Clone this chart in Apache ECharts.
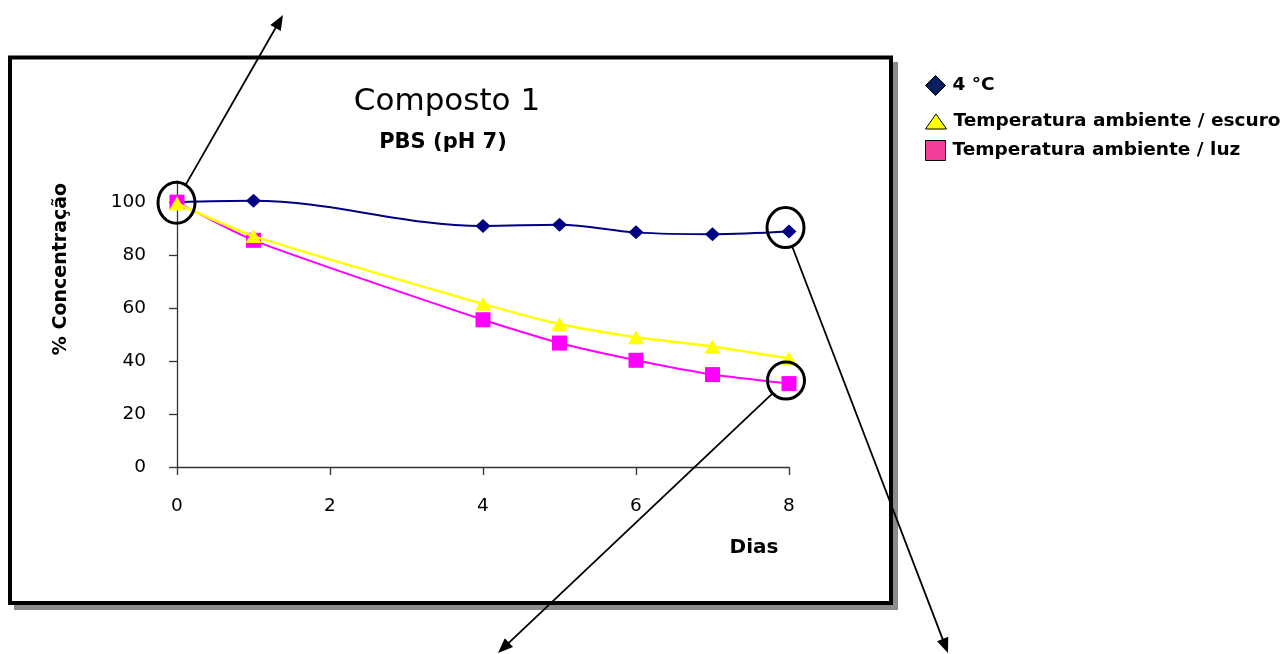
<!DOCTYPE html>
<html>
<head>
<meta charset="utf-8">
<title>Composto 1 - PBS (pH 7)</title>
<script src="https://cdn.jsdelivr.net/npm/echarts@6/dist/echarts.min.js"></script>
<style>
  html, body { margin: 0; padding: 0; background: #fff; }
  #chart { width: 1287px; height: 654px; }
</style>
</head>
<body>
<div id="chart"></div>
<script>
// Dias de armazenamento
const days = [0, 1, 4, 5, 6, 7, 8];
// % Concentração remanescente por condição
const frio4C = [100, 100.5, 91.0, 91.5, 88.6, 87.9, 88.9];
const ambienteEscuro = [99.5, 87.2, 61.6, 54.0, 49.0, 45.5, 41.0];
const ambienteLuz = [100, 85.6, 55.6, 46.8, 40.3, 34.9, 31.5];
// Rótulos dos eixos
const yTicks = [0, 20, 40, 60, 80, 100];
const xTicks = [0, 2, 4, 6, 8];
const seriesNames = ['4 °C', 'Temperatura ambiente / escuro', 'Temperatura ambiente / luz'];

const FONT = '"DejaVu Sans", "Liberation Sans", sans-serif';

const chart = echarts.init(document.getElementById('chart'), null, { renderer: 'canvas' });

const pairs = (ys) => days.map((d, i) => [d, ys[i]]);

const axisText = { color: '#000', fontFamily: FONT, fontSize: 18.5 };
const axisLine = { show: true, lineStyle: { color: '#333', width: 1.3 } };

function legendFor(name, icon, color, w, h, top) {
  return {
    data: [{ name, icon, itemStyle: { color, borderColor: '#000', borderWidth: 1 } }],
    left: 925, top, padding: 0,
    itemWidth: w, itemHeight: h, itemGap: 0,
    selectedMode: false,
    textStyle: { color: '#000', fontFamily: FONT, fontSize: 18.5, fontWeight: 'bold', padding: [0, 0, 0, 2] }
  };
}

chart.setOption({
  backgroundColor: '#fff',
  animation: false,
  grid: { left: 177, top: 181, width: 612, height: 286, containLabel: false },
  legend: [
    legendFor(seriesNames[0], 'diamond', '#0b1f5e', 20, 20, 75),
    legendFor(seriesNames[1], 'triangle', '#ffff00', 21, 15, 112),
    legendFor(seriesNames[2], 'rect', '#f23c97', 20, 20, 140)
  ],
  xAxis: {
    type: 'value', min: 0, max: 8, interval: 2,
    axisLine, splitLine: { show: false },
    axisTick: { show: true, inside: false, length: 8, lineStyle: { color: '#333', width: 1.3 }, customValues: xTicks },
    axisLabel: { ...axisText, margin: 30, customValues: xTicks }
  },
  yAxis: {
    type: 'value', min: 0, max: 108,
    axisLine, splitLine: { show: false },
    axisTick: { show: true, inside: false, length: 8, lineStyle: { color: '#333', width: 1.3 }, customValues: yTicks },
    axisLabel: { ...axisText, margin: 31, customValues: yTicks }
  },
  series: [
    {
      name: seriesNames[0], type: 'line', data: pairs(frio4C), smooth: 0.35, z: 2,
      symbol: 'diamond', symbolSize: [15, 14],
      lineStyle: { color: '#000080', width: 2 },
      itemStyle: { color: '#000080' }
    },
    {
      name: seriesNames[1], type: 'line', data: pairs(ambienteEscuro), smooth: 0.2, z: 4,
      symbol: 'triangle', symbolSize: [16, 14],
      lineStyle: { color: '#ffff00', width: 2.5 },
      itemStyle: { color: '#ffff00' }
    },
    {
      name: seriesNames[2], type: 'line', data: pairs(ambienteLuz), smooth: 0.2, z: 3,
      symbol: 'rect', symbolSize: 15,
      lineStyle: { color: '#ff00ff', width: 2 },
      itemStyle: { color: '#ff00ff' }
    }
  ]
});

// Destaques: elipses em torno de pontos escolhidos e setas que saem delas
const highlights = [
  { series: 2, idx: 0, dx: -0.5, dy: 0.5, rx: 18.5, ry: 20.5, tip: [283, 15] },
  { series: 0, idx: 6, dx: -3.5, dy: -4, rx: 18.5, ry: 20, tip: [948, 653] },
  { series: 2, idx: 6, dx: -3, dy: -3, rx: 18.5, ry: 18.5, tip: [498, 653] }
];
const seriesData = [frio4C, ambienteEscuro, ambienteLuz];

function arrowElements(sx, sy, tx, ty) {
  const a = Math.atan2(ty - sy, tx - sx);
  const len = 15, half = 6;
  const bx = tx - len * Math.cos(a), by = ty - len * Math.sin(a);
  return [
    { type: 'line', z: 20, shape: { x1: sx, y1: sy, x2: bx + 2 * Math.cos(a), y2: by + 2 * Math.sin(a) },
      style: { stroke: '#000', lineWidth: 1.8 } },
    { type: 'polygon', z: 20,
      shape: { points: [[tx, ty], [bx + half * Math.sin(a), by - half * Math.cos(a)], [bx - half * Math.sin(a), by + half * Math.cos(a)]] },
      style: { fill: '#000' } }
  ];
}

const annotation = [];
highlights.forEach((h) => {
  const p = chart.convertToPixel({ seriesIndex: h.series }, [days[h.idx], seriesData[h.series][h.idx]]);
  const cx = p[0] + h.dx, cy = p[1] + h.dy;
  annotation.push({ type: 'ellipse', z: 20, shape: { cx, cy, rx: h.rx, ry: h.ry },
    style: { fill: null, stroke: '#000', lineWidth: 3 } });
  const ang = Math.atan2(h.tip[1] - cy, h.tip[0] - cx);
  const sx = cx + h.rx * Math.cos(ang), sy = cy + h.ry * Math.sin(ang);
  annotation.push(...arrowElements(sx, sy, h.tip[0], h.tip[1]));
});

// Moldura do gráfico com sombra cinza
const frame = [
  { type: 'rect', z: -20, shape: { x: 14, y: 62, width: 884, height: 548 }, style: { fill: '#8c8c8c' } },
  { type: 'rect', z: -19, shape: { x: 10, y: 57.5, width: 881, height: 545.5 },
    style: { fill: '#fff', stroke: '#000', lineWidth: 4 } }
];

const texts = [
  { type: 'text', z: 5, x: 447, y: 102, style: { text: 'Composto 1', align: 'center', verticalAlign: 'middle',
    font: 'normal 31px ' + FONT, fill: '#000' } },
  { type: 'text', z: 5, x: 443, y: 143, style: { text: 'PBS (pH 7)', align: 'center', verticalAlign: 'middle',
    font: 'bold 21px ' + FONT, fill: '#000' } },
  { type: 'text', z: 5, x: 754, y: 548, style: { text: 'Dias', align: 'center', verticalAlign: 'middle',
    font: 'bold 20px ' + FONT, fill: '#000' } },
  { type: 'text', z: 5, x: 61, y: 269, rotation: Math.PI / 2, style: { text: '% Concentração', align: 'center',
    verticalAlign: 'middle', font: 'bold 19px ' + FONT, fill: '#000' } }
];

chart.setOption({ graphic: { elements: [...frame, ...texts, ...annotation] } });
</script>
</body>
</html>
